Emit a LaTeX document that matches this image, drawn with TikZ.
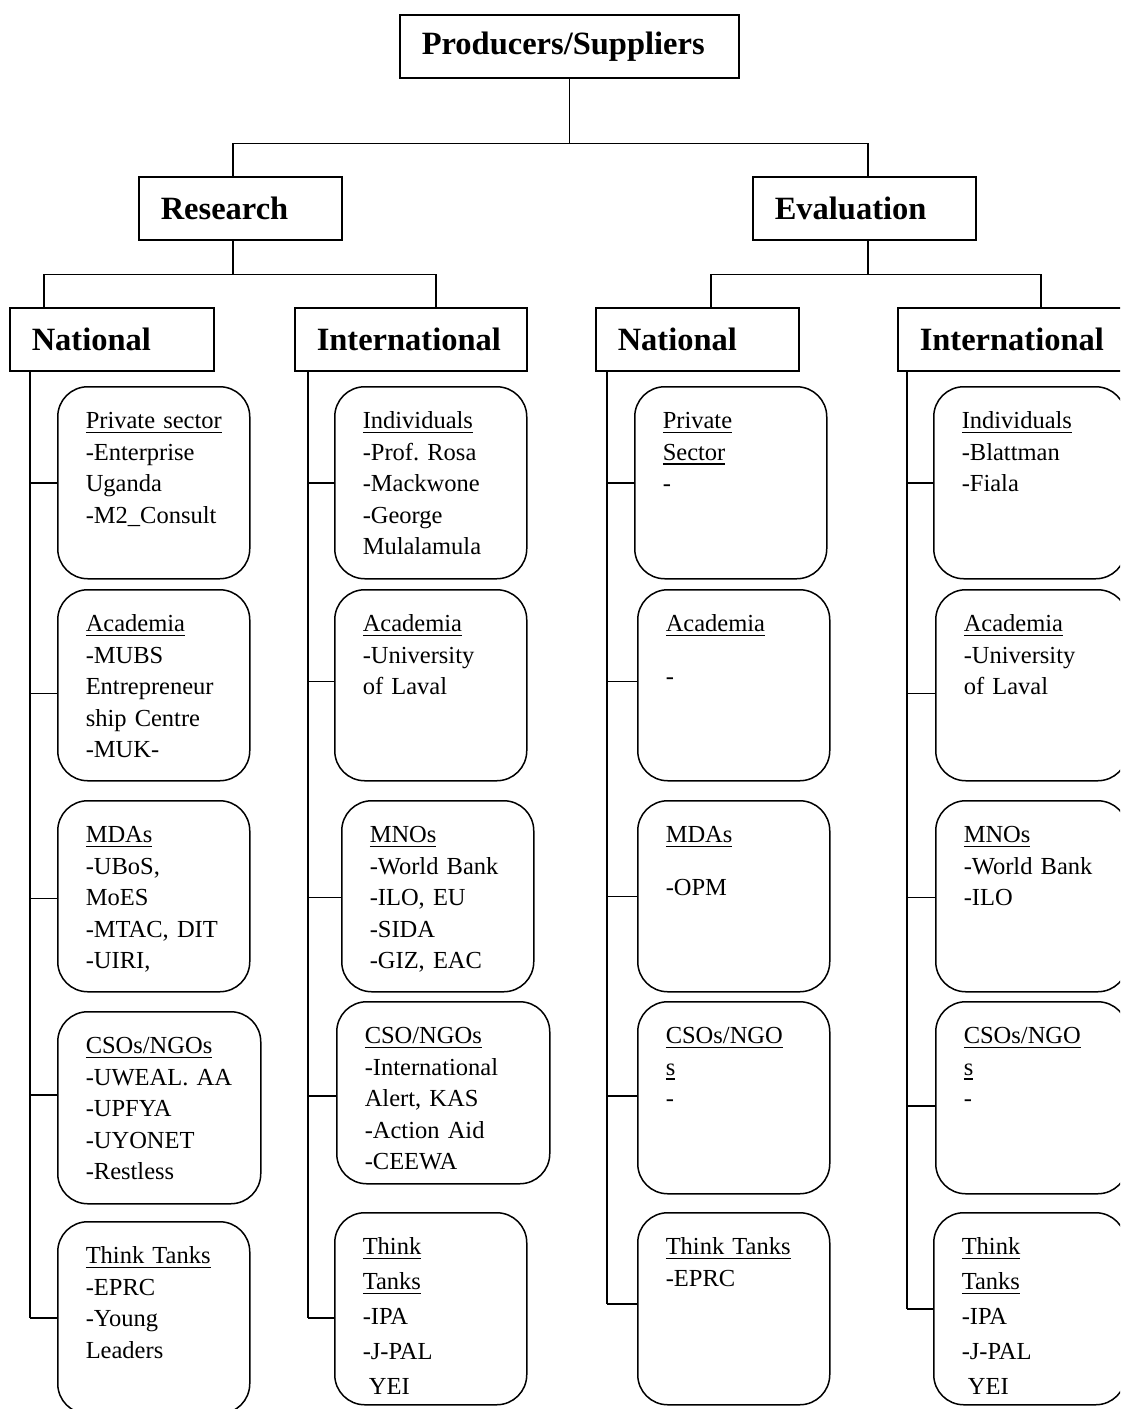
\documentclass[tikz,border=0pt]{standalone}
\usepackage{fontspec}
\setmainfont{Liberation Serif}
\frenchspacing

\newcommand{\boxfont}{\fontsize{24.5}{31.5}\selectfont}
\newcommand{\tanksfont}{\fontsize{24.5}{35}\selectfont}
\newcommand{\headfont}{\fontsize{32.5}{38}\selectfont\bfseries}
\newsavebox{\hdbox}
\newcommand{\hdline}[1]{\leavevmode\sbox{\hdbox}{#1}\rlap{\rule[-4.5pt]{\wd\hdbox}{1.6pt}}\usebox{\hdbox}}

\begin{document}
\begin{tikzpicture}
	[   x=1pt,y=-1pt,line width=1.5pt,
		hbox/.style={draw,rectangle,anchor=north west,minimum height=63pt,inner xsep=22pt,align=left,font=\headfont},
		cbox/.style={draw,rectangle,rounded corners=30pt,anchor=north west,inner xsep=28pt,inner ysep=20pt,align=left,text width=136pt,text height=22pt,text depth=130pt,font=\boxfont},
	]
	\useasboundingbox (0,0) rectangle (1120,1409);
	\clip (0,0) rectangle (1120,1409);
	
	\node[hbox,text width=295pt] (top) at (399,14) {Producers/Suppliers};
	\node[hbox,text width=159pt] (res) at (138,176) {Research};
	\node[hbox,text width=179pt] (eva) at (752,176) {Evaluation};
	
	\node[hbox,text width=160pt] (rn) at (9,307) {National};
	\node[hbox,text width=188pt] (ri) at (294,307) {International};
	\node[hbox,text width=159pt] (en) at (595,307) {National};
	\node[hbox,text width=188pt] (ei) at (897,307) {International};
	
	\node[cbox] (rn-1) at (57,386) {\hdline{Private sector}\\-Enterprise\\Uganda\\-M2\_Consult};
	\node[cbox,text depth=129pt] (rn-2) at (57,589) {\hdline{Academia}\\-MUBS\\Entrepreneur\\ship Centre\\-MUK-};
	\node[cbox,text depth=129pt] (rn-3) at (57,800) {\hdline{MDAs}\\-UBoS,\\MoES\\-MTAC, DIT\\-UIRI,};
	\node[cbox,text width=147pt] (rn-4) at (57,1011) {\hdline{CSOs/NGOs}\\-UWEAL. AA\\-UPFYA\\-UYONET\\-Restless};
	\node[cbox] (rn-5) at (57,1221) {\hdline{Think Tanks}\\-EPRC\\-Young\\Leaders};
	
	\node[cbox] (ri-1) at (334,386) {\hdline{Individuals}\\-Prof. Rosa\\-Mackwone\\-George\\Mulalamula};
	\node[cbox,text depth=129pt] (ri-2) at (334,589) {\hdline{Academia}\\-University\\of Laval};
	\node[cbox,text depth=129pt] (ri-3) at (341,800) {\hdline{MNOs}\\-World Bank\\-ILO, EU\\-SIDA\\-GIZ, EAC};
	\node[cbox,text width=157pt,text depth=120pt] (ri-4) at (336,1001) {\hdline{CSO/NGOs}\\-International\\Alert, KAS\\-Action Aid\\-CEEWA};
	\node[cbox,font=\tanksfont] (ri-5) at (334,1212) {\hdline{Think}\\\hdline{Tanks}\\-IPA\\-J-PAL\\\hspace*{0.25em}YEI};
	
	\node[cbox] (en-1) at (634,386) {\hdline{Private}\\\hdline{Sector}\\-};
	\node[cbox,text depth=129pt] (en-2) at (637,589) {\hdline{Academia}\\[21pt]-};
	\node[cbox,text depth=129pt] (en-3) at (637,800) {\hdline{MDAs}\\[21pt]-OPM};
	\node[cbox] (en-4) at (637,1001) {\hdline{CSOs/NGO}\\\hdline{s}\\-};
	\node[cbox] (en-5) at (637,1212) {\hdline{Think Tanks}\\-EPRC};
	
	\node[cbox] (ei-1) at (933,386) {\hdline{Individuals}\\-Blattman\\-Fiala};
	\node[cbox,text depth=129pt] (ei-2) at (935,589) {\hdline{Academia}\\-University\\of Laval};
	\node[cbox,text depth=129pt] (ei-3) at (935,800) {\hdline{MNOs}\\-World Bank\\-ILO};
	\node[cbox] (ei-4) at (935,1001) {\hdline{CSOs/NGO}\\\hdline{s}\\-};
	\node[cbox,font=\tanksfont] (ei-5) at (933,1212) {\hdline{Think}\\\hdline{Tanks}\\-IPA\\-J-PAL\\\hspace*{0.25em}YEI};
	
	\coordinate (res-in) at (233,176);
	\coordinate (eva-in) at (868,176);
	\coordinate (rn-in) at (44,307);
	\coordinate (ri-in) at (436,307);
	\coordinate (en-in) at (711,307);
	\coordinate (ei-in) at (1041,307);
	
	\draw (top.south) -- ++(0,65) coordinate (top-split);
	\draw (res-in) |- (top-split) -| (eva-in);
	\draw (res.south -| res-in) -- ++(0,34) coordinate (res-split);
	\draw (rn-in) |- (res-split) -| (ri-in);
	\draw (eva.south -| eva-in) -- ++(0,34) coordinate (eva-split);
	\draw (en-in) |- (eva-split) -| (ei-in);
	
	\foreach \col/\tx/\da/\db/\dc/\dd/\de in {rn/30/0/-8/-2/13/0,ri/308/0/4/-1/-3/-9,en/607/0/4/0/2/5,ei/907/0/-8/-1/-8/0}
	{
		\coordinate (\col-trunk) at (\tx,371);
		\foreach \i/\dy in {1/\da,2/\db,3/\dc,4/\dd,5/\de}
		{
			\coordinate (\col-c\i) at ([yshift=\dy pt]\col-\i.west);
			\draw (\col-c\i) -- (\col-c\i -| \col-trunk);
		}
		\draw (\col-trunk) -- (\col-trunk |- \col-c5);
	}
\end{tikzpicture}
\end{document}
